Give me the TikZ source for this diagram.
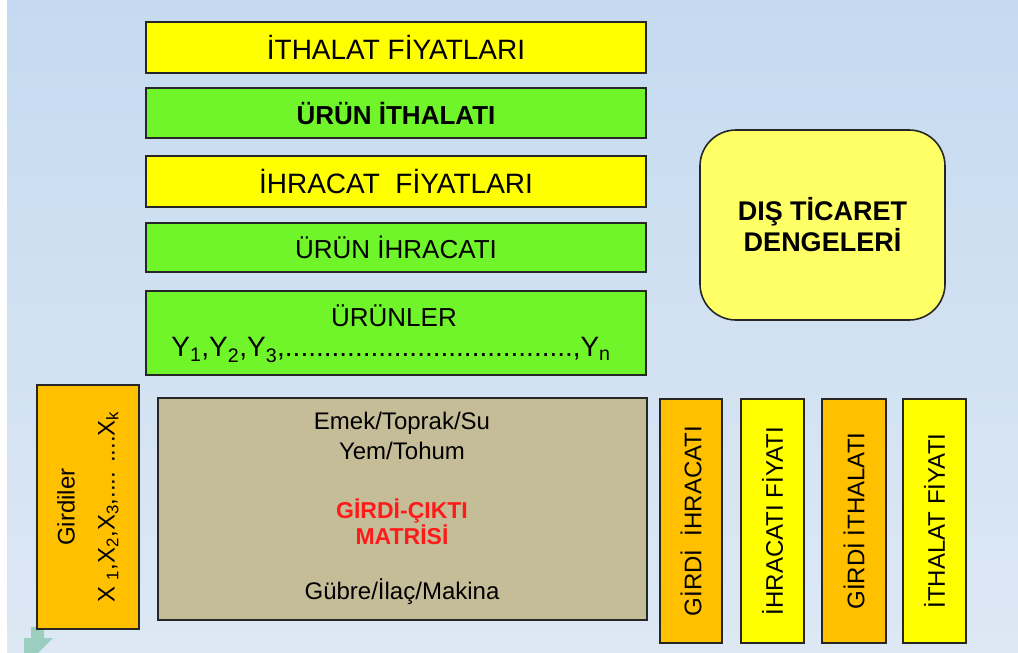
\documentclass[tikz,border=0pt]{standalone}
\usepackage{fontspec}
\setmainfont{Liberation Sans}

\definecolor{bgtop}{RGB}{197,218,240}
\definecolor{bgbottom}{RGB}{221,232,244}
\definecolor{boxyellow}{RGB}{255,255,0}
\definecolor{boxgreen}{RGB}{112,245,42}
\definecolor{boxorange}{RGB}{255,192,0}
\definecolor{boxtan}{RGB}{196,189,151}
\definecolor{paleyellow}{RGB}{255,255,102}
\definecolor{matred}{RGB}{255,26,26}
\definecolor{arrowgreen}{RGB}{128,196,168}

\begin{document}
\begin{tikzpicture}[x=1pt,y=-1pt,
    bar/.style={draw=black!85,line width=1.6pt,inner sep=0pt,minimum width=500,font=\fontsize{28}{32}\selectfont},
    pillar/.style={draw=black!85,line width=1.6pt,inner sep=0pt,rotate=90,minimum width=244,font=\fontsize{24}{28}\selectfont},
    inner/.style={inner sep=0pt,font=\fontsize{24}{28}\selectfont}]

    % Background
    \useasboundingbox (0,0) rectangle (1018,653);
    \fill[white] (0,0) rectangle (1018,653);
    \shade[top color=bgtop,bottom color=bgbottom] (7,0) rectangle (1018,653);
    \fill[arrowgreen,opacity=0.7] (31,627) -- (44,627) -- (44,638) -- (53,638) -- (38,653) -- (24,653) -- (24,638) -- (31,638) -- cycle;

    % Place the bars on top
    \node[bar,fill=boxyellow,minimum height=51] (ithfiyat) at (396,47.5) {İTHALAT FİYATLARI};
    \node[bar,fill=boxgreen,minimum height=50,font=\fontsize{26}{30}\selectfont\bfseries] (urunith) at (396,113) {ÜRÜN İTHALATI};
    \node[bar,fill=boxyellow,minimum height=51] (ihrfiyat) at (396,181.5) {İHRACAT\ \ FİYATLARI};
    \node[bar,fill=boxgreen,minimum height=49,font=\fontsize{26}{30}\selectfont] (urunihr) at (396,247.5) {ÜRÜN İHRACATI};
    \node[bar,fill=boxgreen,minimum height=84,font=\fontsize{26}{30}\selectfont] (urunler) at (396,333) {};
    \node[inner,font=\fontsize{26}{30}\selectfont] (urunlertxt) at (394,316) {ÜRÜNLER};
    \node[inner,font=\fontsize{28}{32}\selectfont] (ylist) at (391,350)
        {Y\textsubscript{1},Y\textsubscript{2},Y\textsubscript{3},.....................................,Y\textsubscript{n}};

    % Trade balance
    \node[draw=black!85,line width=1.6pt,fill=paleyellow,rounded corners=36,minimum width=245,minimum height=190,
        align=center,font=\fontsize{27}{31}\selectfont\bfseries] (denge) at (822.5,225) {DIŞ TİCARET\\DENGELERİ};

    % Inputs and the matrix
    \node[pillar,fill=boxorange,minimum height=102,align=center,font=\fontsize{24}{40}\selectfont] (girdiler) at (88,507)
        {Girdiler\\X \textsubscript{1},X\textsubscript{2},X\textsubscript{3},.... ....X\textsubscript{k}};
    \node[draw=black!85,line width=1.6pt,fill=boxtan,minimum width=489,minimum height=222] (matris) at (402.5,509) {};
    \node[inner] (emek) at (402,423) {Emek/Toprak/Su};
    \node[inner] (yem) at (402,451) {Yem/Tohum};
    \node[inner,align=center,text=matred,font=\fontsize{23}{26}\selectfont\bfseries] (gcm) at (402,522) {GİRDİ-ÇIKTI\\MATRİSİ};
    \node[inner] (gubre) at (402,592) {Gübre/İlaç/Makina};

    % Vertical boxes on the right
    \node[pillar,fill=boxorange,minimum height=62] (girdiihr) at (691,521) {GİRDİ\ \ İHRACATI};
    \node[pillar,fill=boxyellow,minimum height=63] (ihrfiyati) at (772.5,521) {İHRACATI FİYATI};
    \node[pillar,fill=boxorange,minimum height=64] (girdiith) at (854,521) {GİRDİ İTHALATI};
    \node[pillar,fill=boxyellow,minimum height=63] (ithfiyati) at (934.5,521) {İTHALAT FİYATI};

\end{tikzpicture}
\end{document}
